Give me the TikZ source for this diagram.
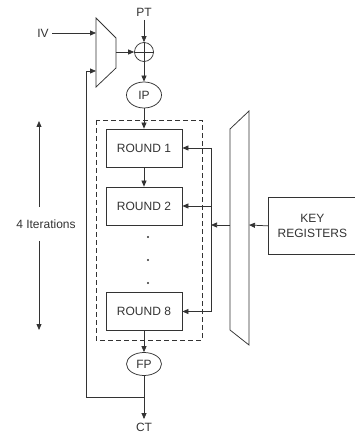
\documentclass[tikz,border=0pt]{standalone}
\usepackage{fontspec}
\setmainfont{Liberation Sans}
\usetikzlibrary{arrows.meta,shapes.geometric}

\tikzset{
  rnd/.style={draw, minimum width=76pt, minimum height=38pt, inner sep=0pt},
  perm/.style={draw, ellipse, minimum width=35pt, inner sep=0pt},
  dot/.style={circle, fill, inner sep=0pt, minimum size=2.2pt}
}

\begin{document}
\begin{tikzpicture}[x=1pt, y=-1pt, line width=.75pt, color=black!80,
  >={Triangle[length=6pt,width=5pt]},
  font=\fontsize{12}{14.5}\selectfont]
\useasboundingbox (0,0) rectangle (354,435);

% input side
\node (iv) at (43,33) {IV};
\node (pt) at (144,12) {PT};
\draw (96,18) -- (116,38) -- (116,68) -- (96,87) -- cycle;
\coordinate (muxa) at (96,33);
\coordinate (muxb) at (96,71);
\coordinate (muxo) at (116,52);
\node[draw, circle, minimum size=19pt, inner sep=0pt] (xor) at (144,52) {};
\draw (xor.north) -- (xor.south) (xor.west) -- (xor.east);
\node[perm, minimum height=26pt] (ip) at (144,95) {IP};

\draw[->] (iv) -- (muxa);
\draw[->] (muxo) -- (xor);
\draw[->] (pt) -- (xor);
\draw[->] (xor) -- (ip);

% rounds
\draw[dash pattern=on 5pt off 3pt] (96,120) rectangle (202,340);
\node[rnd] (r1) at (144,148) {ROUND 1};
\node[rnd] (r2) at (144,206) {ROUND 2};
\node[rnd] (r8) at (144,311.5) {ROUND 8};
\foreach \y [count=\i] in {237,260,283}
  \node[dot] (dot\i) at (148,\y) {};

\draw[->] (ip) -- (r1);
\draw[->] (r1) -- (r2);

% output side
\node[perm, minimum height=23pt] (fp) at (144,364) {FP};
\node (ct) at (144,427) {CT};
\coordinate (fb) at (144,397);
\draw[->] (r8) -- (fp);
\draw (fp) -- (fb);
\draw[->] (fb) -- (ct);
\draw[->] (fb) -- (86,397) |- (muxb);

% key schedule
\node[draw, minimum width=88pt, minimum height=57pt, anchor=north west,
  align=center] (key) at (268,197) {KEY\\REGISTERS};
\draw (230,129) -- (249,111) -- (249,345) -- (230,330) -- cycle;
\coordinate (kmuxi) at (249,225);
\coordinate (kmuxo) at (230,225);
\coordinate (bustop) at (211,148);
\coordinate (busbot) at (211,311.5);
\draw (bustop) -- (busbot);
\draw[->] (key.west) -- (kmuxi);
\draw[->] (kmuxo) -- (kmuxo -| bustop);
\draw[->] (bustop) -- (r1.east);
\draw[->] (r2.east -| bustop) -- (r2.east);
\draw[->] (busbot) -- (r8.east);

% iterations
\node[inner ysep=12pt] (iter) at (46,224) {4 Iterations};
\coordinate (itop) at (39,121);
\coordinate (ibot) at (39,330);
\draw[->] (iter.north -| itop) -- (itop);
\draw[->] (iter.south -| ibot) -- (ibot);

\end{tikzpicture}
\end{document}
